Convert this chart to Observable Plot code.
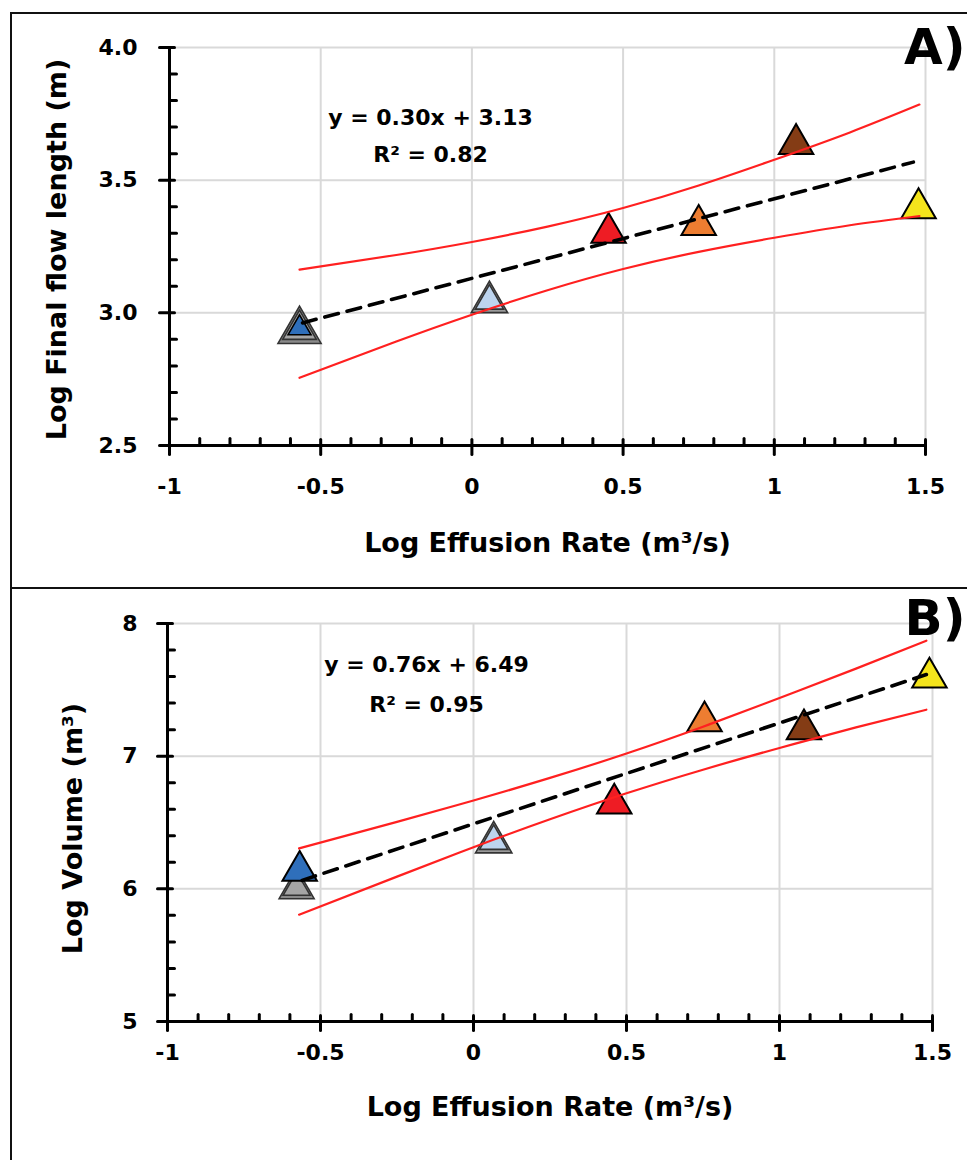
<!DOCTYPE html>
<html><head><meta charset="utf-8">
<script src="https://cdn.jsdelivr.net/npm/d3@7"></script>
<script src="https://cdn.jsdelivr.net/npm/@observablehq/plot@0.6"></script>
<style>
html,body{margin:0;padding:0;background:#fff;overflow:hidden;width:967px;height:1160px;}
#wrap{position:relative;width:967px;height:1160px;overflow:hidden;}
#pa{position:absolute;left:0;top:0;}
#pb{position:absolute;left:0;top:588px;}
.bl{position:absolute;background:#111;}
</style></head><body>
<div id="wrap">
<div id="pa"></div><div id="pb"></div>
<div class="bl" style="left:10px;top:12px;width:957px;height:2px"></div>
<div class="bl" style="left:10px;top:12px;width:2px;height:1148px"></div>
<div class="bl" style="left:10px;top:587px;width:957px;height:2px"></div>
</div>
<script>
// ---------- data ----------
const xTicks = [-1, -0.5, 0, 0.5, 1, 1.5];
const yTicksA = [2.5, 3.0, 3.5, 4.0];
const yTicksB = [5, 6, 7, 8];

const pointNames = ["Flow gray", "Flow dark blue", "Flow light blue", "Flow red", "Flow orange", "Flow brown", "Flow yellow"];
const pointColors = ["#a5a5a5", "#2f6fbb", "#bdd4ee", "#ee1c24", "#ed7d31", "#843c15", "#f4e41c"];

const effusionA = [-0.57, -0.57, 0.058, 0.452, 0.75, 1.072, 1.477];
const flowLengthA = [2.955, 2.955, 3.06, 3.32, 3.35, 3.655, 3.413];

const effusionB = [-0.578, -0.568, 0.066, 0.46, 0.755, 1.08, 1.49];
const volumeB = [6.04, 6.173, 6.39, 6.68, 7.30, 7.24, 7.63];

const bandXA = [-0.57, -0.25, 0, 0.25, 0.5, 0.75, 1.0, 1.25, 1.48];
const upperA = [3.163, 3.218, 3.267, 3.325, 3.395, 3.48, 3.577, 3.68, 3.785];
const lowerA = [2.755, 2.892, 2.993, 3.085, 3.165, 3.23, 3.283, 3.33, 3.365];

const bandXB = [-0.57, -0.25, 0, 0.25, 0.5, 0.75, 1.0, 1.25, 1.48];
const upperB = [6.305, 6.505, 6.666, 6.836, 7.02, 7.222, 7.438, 7.66, 7.87];
const lowerB = [5.805, 6.092, 6.314, 6.524, 6.72, 6.898, 7.062, 7.217, 7.35];

const fitXA = [-0.56, 1.46], fitYA = [2.962, 3.568];
const fitXB = [-0.56, 1.48], fitYB = [6.064, 7.615];

const eqA = ["y = 0.30x + 3.13", "R\u00B2 = 0.82"];
const eqB = ["y = 0.76x + 6.49", "R\u00B2 = 0.95"];
const xTitle = "Log Effusion Rate (m\u00B3/s)";
const yTitleA = "Log Final flow length (m)";
const yTitleB = "Log Volume (m\u00B3)";
const tagA = "A)", tagB = "B)";

// ---------- helpers ----------
const FONT = "DejaVu Sans";
const gridColor = "#d9d9d9";
const zip = (xs, ys) => xs.map((x, i) => ({x, y: ys[i]}));
const isMajor = (d, step) => Math.abs(d / step - Math.round(d / step)) < 1e-6;
const colorOf = d => pointColors[pointNames.indexOf(d.name)];

const tickMajX = {draw(c) { c.moveTo(0, -6); c.lineTo(0, 9); }};
const tickMinX = {draw(c) { c.moveTo(0, 0); c.lineTo(0, -7); }};
const tickMajY = {draw(c) { c.moveTo(-10, 0); c.lineTo(5, 0); }};
const tickMinY = {draw(c) { c.moveTo(0, 0); c.lineTo(7, 0); }};

function tri(data, r, opts) {
  return Plot.dot(data, {x: "x", y: "y", symbol: "triangle", r, dy: 0.389 * r, ...opts});
}

function panel(cfg) {
  const {yDomain, yTicks, yMinor, yFmt, pts, upper, lower, fit, eq, yTitle, tag, m, layout, dotLayers} = cfg;
  const axisStyle = {stroke: "#000", strokeWidth: 3};
  const xMinor = d3.range(-0.9, 1.45, 0.1).filter(d => !isMajor(d, 0.5));
  return Plot.plot({
    width: 967, height: m.height,
    marginLeft: m.left, marginRight: m.right, marginTop: m.top, marginBottom: m.bottom,
    x: {domain: [-1, 1.5], axis: null},
    y: {domain: yDomain, axis: null},
    style: {fontFamily: FONT, background: "transparent", color: "#000"},
    marks: [
      Plot.gridX(xTicks.filter(d => d > -1), {stroke: gridColor, strokeOpacity: 1, strokeWidth: 2}),
      Plot.gridY(yTicks.filter(d => d > yDomain[0]), {stroke: gridColor, strokeOpacity: 1, strokeWidth: 2}),
      ...dotLayers(pts),
      Plot.line(upper, {x: "x", y: "y", stroke: "#ff2020", strokeWidth: 2.2, curve: "natural"}),
      Plot.line(lower, {x: "x", y: "y", stroke: "#ff2020", strokeWidth: 2.2, curve: "natural"}),
      Plot.line(fit, {x: "x", y: "y", stroke: "#000", strokeWidth: 3.6, strokeDasharray: "14 9"}),
      Plot.ruleX([-1], {...axisStyle, y1: yDomain[0], y2: yDomain[1]}),
      Plot.ruleY([yDomain[0]], {...axisStyle, x1: -1, x2: 1.5}),
      Plot.vector(xTicks, {x: d => d, y: yDomain[0], length: 9, anchor: "start", shape: tickMajX, ...axisStyle}),
      Plot.vector(xMinor, {x: d => d, y: yDomain[0], length: 7, anchor: "start", shape: tickMinX, ...axisStyle}),
      Plot.vector(yTicks, {x: -1, y: d => d, length: 9, anchor: "start", shape: tickMajY, ...axisStyle}),
      Plot.vector(yMinor, {x: -1, y: d => d, length: 7, anchor: "start", shape: tickMinY, ...axisStyle}),
      Plot.text(xTicks, {x: d => d, text: d => String(d), frameAnchor: "bottom", dy: layout.xLabDy,
        fontSize: 22, fontWeight: "bold", fill: "#000"}),
      Plot.text(yTicks, {y: d => d, text: yFmt, frameAnchor: "left", textAnchor: "end", dx: layout.yLabDx,
        fontSize: 22, fontWeight: "bold", fill: "#000"}),
      Plot.text([xTitle], {text: d => d, frameAnchor: "bottom", dy: layout.xTitleDy,
        fontSize: 27, fontWeight: "bold", fill: "#000"}),
      Plot.text([yTitle], {text: d => d, frameAnchor: "left", textAnchor: "middle", rotate: -90,
        dx: layout.yTitleDx, dy: layout.yTitleDy, fontSize: 27, fontWeight: "bold", fill: "#000"}),
      Plot.text([eq.join("\n")], {text: d => d, frameAnchor: "top-left", dx: layout.eqDx, dy: layout.eqDy,
        textAnchor: "middle", lineAnchor: "middle", lineHeight: layout.eqLH, fontSize: 22, fontWeight: "bold", fill: "#000"}),
      Plot.text([tag], {text: d => d, frameAnchor: "top-right", textAnchor: "end", lineAnchor: "top",
        dx: layout.tagDx, dy: layout.tagDy, fontSize: 50, fontWeight: "bold", fill: "#000"})
    ]
  });
}

// ---------- panel A ----------
const ptsA = pointNames.map((name, i) => ({name, x: effusionA[i], y: flowLengthA[i]}));
const chartA = panel({
  yDomain: [2.5, 4.0], yTicks: yTicksA,
  yMinor: d3.range(2.6, 3.95, 0.1).filter(d => !isMajor(d, 0.5)),
  yFmt: d => d.toFixed(1),
  pts: ptsA, upper: zip(bandXA, upperA), lower: zip(bandXA, lowerA), fit: zip(fitXA, fitYA),
  eq: eqA, yTitle: yTitleA, tag: tagA,
  m: {height: 588, left: 169, right: 42, top: 47, bottom: 143},
  layout: {xLabDy: 48, yLabDx: -32, xTitleDy: 106, yTitleDx: -112, yTitleDy: 3,
           eqDx: 261, eqDy: 84, eqLH: 1.68, tagDx: 40, tagDy: -19},
  dotLayers: pts => {
    const gray = pts.filter(d => d.name === "Flow gray");
    const blue = pts.filter(d => d.name === "Flow dark blue");
    const light = pts.filter(d => d.name === "Flow light blue");
    const rest = pts.filter(d => !["Flow gray", "Flow dark blue", "Flow light blue"].includes(d.name));
    return [
      tri(gray, 16, {fill: "#8a8a8a", stroke: "#333", strokeWidth: 1.6}),
      tri(gray, 12.5, {fill: colorOf, stroke: "#333", strokeWidth: 1.6}),
      tri(blue, 8.5, {fill: colorOf, stroke: "#000", strokeWidth: 1.6}),
      tri(light, 13.5, {fill: "#9a9a9a", stroke: "#333", strokeWidth: 1.6}),
      tri(light, 10.5, {fill: colorOf, stroke: "#333", strokeWidth: 1.6}),
      tri(rest, 12.8, {fill: colorOf, stroke: "#000", strokeWidth: 2})
    ];
  }
});
document.getElementById("pa").appendChild(chartA);

// ---------- panel B ----------
const ptsB = pointNames.map((name, i) => ({name, x: effusionB[i], y: volumeB[i]}));
const chartB = panel({
  yDomain: [5, 8], yTicks: yTicksB,
  yMinor: d3.range(5.2, 7.9, 0.2).filter(d => !isMajor(d, 1)),
  yFmt: d => String(d),
  pts: ptsB, upper: zip(bandXB, upperB), lower: zip(bandXB, lowerB), fit: zip(fitXB, fitYB),
  eq: eqB, yTitle: yTitleB, tag: tagB,
  m: {height: 572, left: 167, right: 35, top: 35, bottom: 139},
  layout: {xLabDy: 38, yLabDx: -30, xTitleDy: 94, yTitleDx: -94, yTitleDy: 6,
           eqDx: 259, eqDy: 56, eqLH: 1.82, tagDx: 33, tagDy: -24},
  dotLayers: pts => {
    const gray = pts.filter(d => d.name === "Flow gray");
    const light = pts.filter(d => d.name === "Flow light blue");
    const rest = pts.filter(d => !["Flow gray", "Flow light blue"].includes(d.name));
    return [
      tri(gray, 13, {fill: "#8a8a8a", stroke: "#333", strokeWidth: 1.6}),
      tri(gray, 10, {fill: colorOf, stroke: "#333", strokeWidth: 1.6}),
      tri(light, 13.5, {fill: "#9a9a9a", stroke: "#333", strokeWidth: 1.6}),
      tri(light, 10.5, {fill: colorOf, stroke: "#333", strokeWidth: 1.6}),
      tri(rest, 12.8, {fill: colorOf, stroke: "#000", strokeWidth: 2})
    ];
  }
});
document.getElementById("pb").appendChild(chartB);
</script>
</body></html>
